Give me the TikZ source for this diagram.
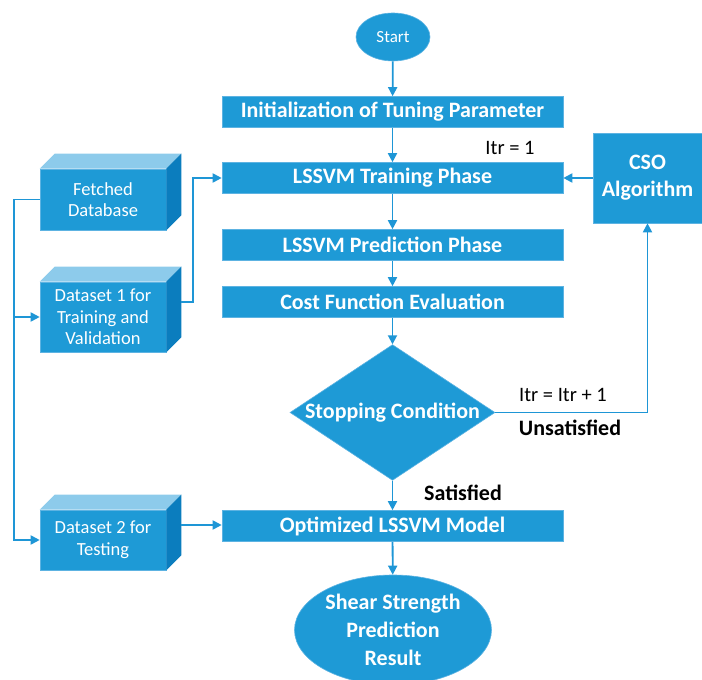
\documentclass[tikz,border=0pt]{standalone}
\usepackage{fontspec}
\setmainfont{Carlito}
\usetikzlibrary{arrows.meta,calc,positioning,shapes.geometric}
\definecolor{ink}{HTML}{000000}
\definecolor{boxfill}{HTML}{1E9AD6}
\definecolor{boxborder}{HTML}{5DB3E2}
\definecolor{topface}{HTML}{8DCBEB}
\definecolor{sideface}{HTML}{0B7DBE}
\definecolor{flowline}{HTML}{1E96D6}
\tikzset{
  every node/.style={font=\fontsize{17}{20}\selectfont, text=ink},
  flow/.style={-{Triangle[length=9pt,width=9pt]}, draw=flowline,
    line width=1.8pt},
  link/.style={draw=flowline, line width=1.8pt},
  stepbox/.style={rectangle, draw=boxborder, fill=boxfill, text=white,
    line width=0.6pt, minimum width=341pt, minimum height=31pt,
    font=\fontsize{22}{26}\selectfont\bfseries},
  terminal/.style={ellipse, draw=boxborder, fill=boxfill, text=white,
    line width=0.6pt, inner sep=0pt, align=center},
  decision/.style={diamond, draw=boxborder, fill=boxfill, text=white,
    line width=0.6pt, inner sep=0pt, font=\fontsize{22}{26}\selectfont\bfseries},
  datafront/.style={rectangle, draw=boxborder, fill=boxfill, text=white,
    line width=0.6pt, minimum width=126pt, align=center,
    font=\fontsize{18.5}{21.5}\selectfont},
  note/.style={font=\fontsize{20.5}{24}\selectfont, text=ink},
  boldnote/.style={font=\fontsize{22}{26}\selectfont\bfseries, text=ink}
}
% top and side faces of a data cuboid
\newcommand{\cuboidfaces}[1]{%
  \fill[topface] (#1.north west) -- ++(15,15) -- ($(#1.north east)+(15,15)$)
    -- (#1.north east) -- cycle;
  \fill[sideface] (#1.north east) -- ++(15,15) -- ($(#1.south east)+(15,15)$)
    -- (#1.south east) -- cycle;
}

\begin{document}
\begin{tikzpicture}[x=1pt,y=1pt]
  \useasboundingbox (0,0) rectangle (702,680);

  % Main column
  \node[terminal, minimum width=74pt, minimum height=48pt] (start) at (393,643) {Start};
  \node[stepbox] (init) at (392.5,568) {Initialization of Tuning Parameter};
  \node[stepbox] (train) at (392.5,502) {LSSVM Training Phase};
  \node[stepbox] (pred) at (392.5,435) {LSSVM Prediction Phase};
  \node[stepbox] (cost) at (392.5,378) {Cost Function Evaluation};
  \node[decision, minimum width=205pt, minimum height=135pt, aspect=1.5]
    (stop) at (392.5,267.5) {Stopping Condition};
  \node[stepbox] (optim) at (392.5,154) {Optimized LSSVM Model};
  \node[terminal, minimum width=197pt, minimum height=110pt,
    font=\fontsize{22}{28}\selectfont\bfseries] (result) at (393,50)
    {Shear Strength\\Prediction\\Result};

  % Optimizer on the right
  \node[stepbox, minimum width=109pt, minimum height=90pt, align=center,
    font=\fontsize{22}{27}\selectfont\bfseries] (cso) at (647.5,502) {CSO\\Algorithm};

  % Data cuboids on the left
  \node[datafront, minimum height=61pt] (fetched) at (103,480.5) {Fetched\\Database};
  \cuboidfaces{fetched}
  \node[datafront, minimum height=70pt] (dsone) at (103,363) {Dataset 1 for\\Training and\\Validation};
  \cuboidfaces{dsone}
  \node[datafront, minimum height=60pt] (dstwo) at (103,140) {Dataset 2 for\\Testing};
  \cuboidfaces{dstwo}

  % Labels
  \node[note] (itrone) at (510,532) {Itr = 1};
  \node[note] (itrinc) at (563,285) {Itr = Itr + 1};
  \node[boldnote] (unsat) at (570,252) {Unsatisfied};
  \node[boldnote] (sat) at (463,187) {Satisfied};

  % Flow along the main column
  \draw[flow] (start) -- (init);
  \draw[flow] (init) -- (train);
  \draw[flow] (train) -- (pred);
  \draw[flow] (pred) -- (cost);
  \draw[flow] (cost) -- (stop);
  \draw[flow] (stop) -- (optim);
  \draw[flow] (optim) -- (result);

  % Loop through the optimizer
  \draw[flow] (stop.east) -| (cso.south);
  \draw[flow] (cso) -- (train);

  % Data feeds
  \coordinate (trunk) at (14,480.5);
  \draw[link] (fetched.west) -- (trunk);
  \draw[flow] (trunk) |- (dstwo.west);
  \draw[flow] (trunk |- dsone.west) -- (dsone.west);
  \draw[flow] ($(dsone.east)+(15,15)$) -- (193,378) |- (train.west);
  \draw[flow] ($(dstwo.east)+(15,15)$) -- (optim.west |- 0,155);
\end{tikzpicture}
\end{document}
